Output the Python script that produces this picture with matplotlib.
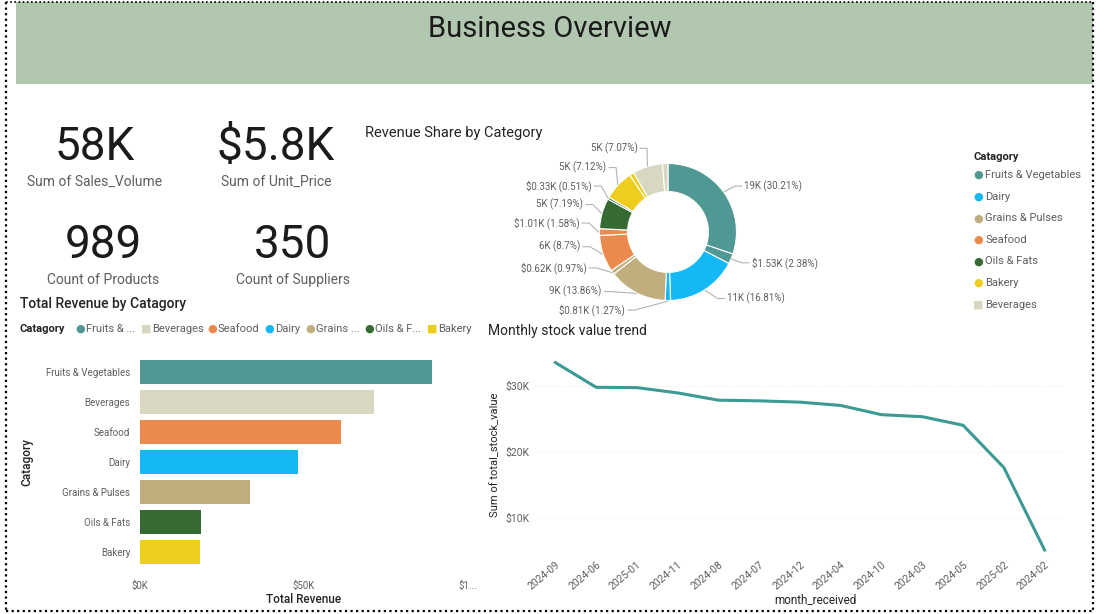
import numpy as np
import matplotlib
matplotlib.use("Agg")
import matplotlib.pyplot as plt
from matplotlib.patches import Rectangle

plt.rcParams['font.family'] = ['Roboto', 'DejaVu Sans']

# ---- data ----
kpi_values = ["58K", "$5.8K", "989", "350"]
kpi_labels = ["Sum of Sales_Volume", "Sum of Unit_Price", "Count of Products", "Count of Suppliers"]

cat_colors = {
    "Fruits & Vegetables": "#4f9893",
    "Dairy": "#14b8f4",
    "Grains & Pulses": "#c0ae7e",
    "Seafood": "#ec8a4d",
    "Oils & Fats": "#356b33",
    "Bakery": "#edcd1e",
    "Beverages": "#d9d7c2",
}
legend_order = ["Fruits & Vegetables", "Dairy", "Grains & Pulses", "Seafood",
                "Oils & Fats", "Bakery", "Beverages"]

# donut slices (clockwise from top)
slice_cat = ["Fruits & Vegetables", "Fruits & Vegetables", "Dairy", "Dairy",
             "Grains & Pulses", "Grains & Pulses", "Seafood", "Seafood",
             "Oils & Fats", "Oils & Fats", "Bakery", "Bakery",
             "Beverages", "Beverages"]
slice_pct = [30.21, 2.38, 16.81, 1.27, 13.86, 0.97, 8.70, 1.58,
             7.19, 0.51, 7.12, 1.05, 7.07, 1.28]
slice_text = ["19K", "$1.53K", "11K", "$0.81K", "9K", "$0.62K", "6K", "$1.01K",
              "5K", "$0.33K", "5K", None, "5K", None]

# bar chart
bar_cats = ["Fruits & Vegetables", "Beverages", "Seafood", "Dairy",
            "Grains & Pulses", "Oils & Fats", "Bakery"]
bar_revenue = [89000, 71300, 61200, 48300, 33600, 18600, 18200]
bar_legend_text = ["Fruits & ...", "Beverages", "Seafood", "Dairy",
                   "Grains ...", "Oils & F...", "Bakery"]

# line chart
months = ["2024-09", "2024-06", "2025-01", "2024-11", "2024-08", "2024-07", "2024-12",
          "2024-04", "2024-10", "2024-03", "2024-05", "2025-02", "2024-02"]
stock_value = [33500, 29750, 29700, 28900, 27800, 27700, 27500,
               27000, 25600, 25300, 24000, 17600, 5100]

# ---- layout helpers ----
W, H = 1100, 614
TITLE_C = "#252423"
LABEL_C = "#605e5c"


def rect(x0, y0, x1, y1):
    return [x0 / W, 1 - y1 / H, (x1 - x0) / W, (y1 - y0) / H]


fig = plt.figure(figsize=(11, 6.14), dpi=100)
bg = fig.add_axes([0, 0, 1, 1])
bg.set_xlim(0, W)
bg.set_ylim(H, 0)
bg.axis('off')

# dashboard border + header
bg.add_patch(Rectangle((16, 2), 1077, 82, color="#b2c7b0", lw=0))
bg.plot([6, 6], [2, 611], color='black', ls=(0, (1, 1.5)), lw=1.6)
bg.plot([1093, 1093], [2, 611], color='black', ls=(0, (1, 1.5)), lw=1.6)
bg.plot([6, 1093], [1.5, 1.5], color='black', ls=(0, (1, 1.5)), lw=1.2)
bg.plot([6, 1093], [611, 611], color='black', ls=(0, (1, 1.5)), lw=1.6)
bg.text(550, 29, "Business Overview", ha='center', va='center', fontsize=21,
        color='#1b1b1b')

# KPI cards
kpi_pos = [(95, 147), (276, 147), (103, 245), (293, 245)]
for (x, y), v, l in zip(kpi_pos, kpi_values, kpi_labels):
    bg.text(x, y, v, ha='center', va='center', fontsize=33, color='#1b1b1b')
    bg.text(x, y + 35, l, ha='center', va='center', fontsize=10, color=LABEL_C)

# ---- donut ----
bg.text(365, 133, "Revenue Share by Category", ha='left', va='center',
        fontsize=10.5, color=TITLE_C)
R = 68.5
ax_d = fig.add_axes(rect(520, 140, 816, 324))
wedges, _ = ax_d.pie(slice_pct, colors=[cat_colors[c] for c in slice_cat],
                     startangle=90, counterclock=False,
                     wedgeprops=dict(width=0.41, edgecolor='white', linewidth=0.8))
ax_d.set_xlim(-148 / R, 148 / R)
ax_d.set_ylim(-92 / R, 92 / R)

# label positions, spread so they don't overlap
labels = []
for w, t, p in zip(wedges, slice_text, slice_pct):
    if t is None:
        continue
    a = np.deg2rad((w.theta1 + w.theta2) / 2)
    side = 1 if np.cos(a) > 0.01 else -1
    labels.append(dict(a=a, side=side, y=1.15 * np.sin(a), text=f"{t} ({p:g}%)"))

gap = 0.27
for side in (-1, 1):
    grp = sorted([l for l in labels if l['side'] == side], key=lambda l: -l['y'])
    for l in grp:
        l['y'] = min(l['y'], 1.07)
    for i in range(1, len(grp)):
        grp[i]['y'] = min(grp[i]['y'], grp[i - 1]['y'] - gap)
    low = -1.14
    if grp and grp[-1]['y'] < low:
        shift = low - grp[-1]['y']
        for l in grp:
            l['y'] += shift
        for i in range(len(grp) - 2, -1, -1):
            grp[i]['y'] = max(grp[i]['y'], grp[i + 1]['y'] + gap)

Rl = 1.3
for l in labels:
    a, s, y = l['a'], l['side'], l['y']
    xt = s * max(np.sqrt(max(Rl ** 2 - y ** 2, 0)), 0.4)
    p0 = (np.cos(a) * 1.01, np.sin(a) * 1.01)
    xe = xt - s * 0.14
    ax_d.plot([p0[0], xe, xt - s * 0.04], [p0[1], y, y], color='#b3b3b3', lw=0.8)
    ax_d.text(xt, y, l['text'], ha='left' if s > 0 else 'right', va='center',
              fontsize=7, color=LABEL_C)

# donut legend
bg.text(973, 157, "Catagory", ha='left', va='center', fontsize=8,
        fontweight='bold', color=TITLE_C)
for i, c in enumerate(legend_order):
    y = 175 + 21.6 * i
    mk = '■' if c == "Beverages" else '●'
    bg.text(978, y, mk, ha='center', va='center', fontsize=8, color=cat_colors[c])
    bg.text(985, y, c, ha='left', va='center', fontsize=8, color=LABEL_C)

# ---- bar chart ----
bg.text(20, 304, "Total Revenue by Catagory", ha='left', va='center',
        fontsize=10, fontweight='medium', color=TITLE_C)
bg.text(20, 329, "Catagory", ha='left', va='center', fontsize=8,
        fontweight='bold', color=TITLE_C)
leg_x = [80, 146, 212, 269, 310, 369, 432]
for x, c, t in zip(leg_x, bar_cats, bar_legend_text):
    mk = '■' if c in ("Beverages", "Bakery") else '●'
    bg.text(x, 329, mk, ha='center', va='center', fontsize=8, color=cat_colors[c])
    bg.text(x + 6, 329, t, ha='left', va='center', fontsize=8, color=LABEL_C)

ax_b = fig.add_axes(rect(140, 357, 468, 567))
ypos = np.arange(len(bar_cats))
ax_b.barh(ypos, bar_revenue, height=0.77, color=[cat_colors[c] for c in bar_cats])
ax_b.set_ylim(len(bar_cats) - 0.5, -0.5)
ax_b.set_xlim(0, 100000)
ax_b.set_yticks(ypos)
ax_b.set_yticklabels(bar_cats, fontsize=7, color=LABEL_C)
ax_b.set_xticks([0, 50000, 100000])
ax_b.set_xticklabels(["$0K", "$50K", "$1..."], fontsize=7, color=LABEL_C)
ax_b.tick_params(length=0, axis='y', pad=7)
ax_b.tick_params(length=0, axis='x', pad=10)
for sp in ax_b.spines.values():
    sp.set_visible(False)
ax_b.set_xlabel("Total Revenue", fontsize=8.5, color=TITLE_C, fontweight='medium')
ax_b.xaxis.set_label_coords(0.5, -(593 - 567) / 210)
ax_b.set_ylabel("Catagory", fontsize=8.5, color=TITLE_C, fontweight='medium')
ax_b.yaxis.set_label_coords((33 - 140) / 328, 0.5)

# ---- line chart ----
bg.text(488, 331, "Monthly stock value trend", ha='left', va='center',
        fontsize=10, color=TITLE_C)
ax_l = fig.add_axes(rect(535, 350, 1065, 555))
xi = np.arange(len(months))
ax_l.plot(xi, stock_value, color="#3b9a94", lw=2.2, solid_joinstyle='round')
ax_l.set_xlim(-0.5, len(months) - 0.5)
ax_l.set_ylim(4350, 35400)
ax_l.set_yticks([10000, 20000, 30000])
ax_l.set_yticklabels(["$10K", "$20K", "$30K"], fontsize=7.5, color=LABEL_C)
ax_l.set_xticks(xi)
ax_l.set_xticklabels(months, rotation=40, ha='right', rotation_mode='anchor',
                     fontsize=7.5, color=LABEL_C)
ax_l.tick_params(length=0, axis='y', pad=4)
ax_l.tick_params(length=0, axis='x', pad=3)
ax_l.grid(axis='y', color='#eeeeee', ls=':', lw=0.8)
ax_l.set_axisbelow(True)
for sp in ax_l.spines.values():
    sp.set_visible(False)
ax_l.set_xlabel("month_received", fontsize=8.5, color=TITLE_C)
ax_l.xaxis.set_label_coords(0.53, -(593 - 555) / 205)
ax_l.set_ylabel("Sum of total_stock_value", fontsize=8, color=TITLE_C)
ax_l.yaxis.set_label_coords((500 - 535) / 530, 0.49)

fig.savefig("out.png", dpi=100)
